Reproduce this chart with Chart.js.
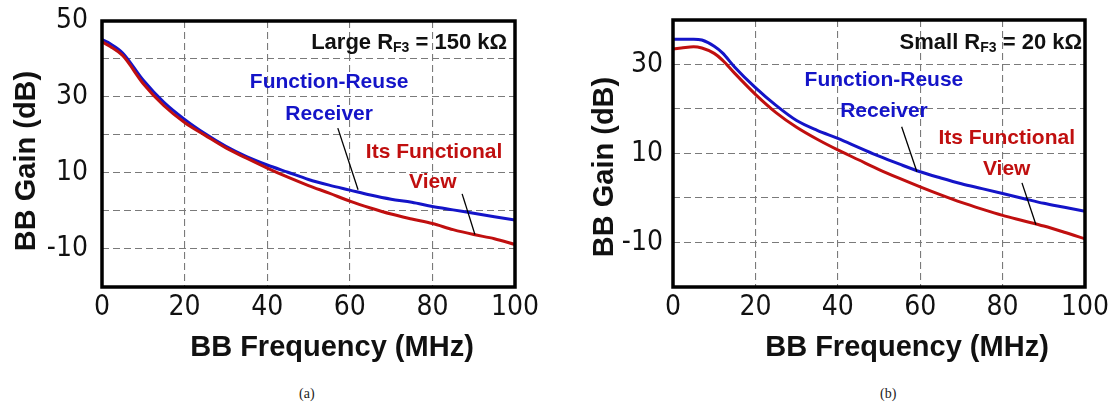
<!DOCTYPE html>
<html>
<head>
<meta charset="utf-8">
<script src="https://cdn.jsdelivr.net/npm/chart.js@4.4.1/dist/chart.umd.min.js"></script>
<style>
body{margin:0;background:#fff;width:1113px;height:411px;position:relative;overflow:hidden}
.box{position:absolute;top:0;height:370px}
.cap{position:absolute;top:386px;font:14px "Liberation Serif",serif;color:#222}
</style>
</head>
<body>
<div class="box" style="left:0;width:543px"><canvas id="chartA"></canvas></div>
<div class="box" style="left:580px;width:533px"><canvas id="chartB"></canvas></div>
<div class="cap" style="left:299px">(a)</div>
<div class="cap" style="left:880px">(b)</div>
<script>
// (a) large RF3 = 150 kOhm
let freqA  = [0, 2, 5, 10, 15, 20, 25, 30, 35, 40, 45, 50, 55, 60, 65, 70, 75, 80, 85, 90, 95, 100];
let reuseA = [45.1, 44.0, 41.6, 34.4, 28.6, 24.1, 20.3, 17.0, 14.3, 12.1, 10.2, 8.3, 6.8, 5.5, 4.2, 3.1, 2.3, 1.2, 0.3, -0.6, -1.5, -2.4];
let viewA  = [44.5, 43.3, 40.9, 33.5, 27.7, 23.3, 19.9, 16.6, 13.9, 11.3, 8.9, 6.7, 4.7, 2.6, 0.8, -0.8, -2.1, -3.3, -4.9, -6.2, -7.3, -8.8];

// (b) small RF3 = 20 kOhm
let freqB  = [0, 2, 5, 7, 10, 12, 15, 20, 25, 30, 35, 40, 45, 50, 55, 60, 65, 70, 75, 80, 85, 90, 95, 100];
let reuseB = [35.7, 35.7, 35.7, 35.5, 34.1, 32.6, 29.4, 24.8, 20.8, 17.4, 15.2, 13.4, 11.4, 9.4, 7.6, 5.9, 4.5, 3.2, 2.1, 1.0, -0.1, -1.2, -2.1, -3.0];
let viewB  = [33.5, 33.7, 34.0, 33.7, 32.5, 31.0, 28.0, 23.3, 19.2, 15.9, 13.2, 10.8, 8.6, 6.4, 4.4, 2.5, 0.7, -1.0, -2.5, -3.9, -5.1, -6.3, -7.7, -9.2];

let yTicksA = [50, 30, 10, -10];
let yTicksB = [30, 10, -10];

const blue = '#1414c8';
const red = '#c00f0f';
const tickFont = {family: '"DejaVu Sans Condensed", "Liberation Sans Narrow", sans-serif', size: 28};
const boldFont = '"Liberation Sans", Arial, sans-serif';

function points(xs, ys) {
    return xs.map((f, i) => ({x: f, y: ys[i]}));
}

const notes = {
    id: 'notes',
    afterDraw(chart, args, o) {
        const {ctx, chartArea: a} = chart;
        const x = chart.scales.x, y = chart.scales.y;
        ctx.save();
        ctx.strokeStyle = '#000';
        ctx.lineWidth = 3.5;
        ctx.strokeRect(a.left, a.top, a.right - a.left, a.bottom - a.top);

        ctx.lineWidth = 1.3;
        o.leaders.forEach(l => {
            ctx.beginPath();
            ctx.moveTo(x.getPixelForValue(l[0]), y.getPixelForValue(l[1]));
            ctx.lineTo(x.getPixelForValue(l[2]), y.getPixelForValue(l[3]));
            ctx.stroke();
        });

        ctx.textAlign = 'center';
        ctx.textBaseline = 'middle';
        ctx.font = 'bold 21px ' + boldFont;
        o.labels.forEach(t => {
            ctx.fillStyle = t.color;
            ctx.fillText(t.text, x.getPixelForValue(t.x), y.getPixelForValue(t.y));
        });

        // header: "Large R" + sub "F3" + " = 150 kΩ", right aligned
        const h = o.header;
        const big = 'bold 22px ' + boldFont, small = 'bold 14px ' + boldFont;
        ctx.font = big; const w1 = ctx.measureText(h.pre).width, w3 = ctx.measureText(h.post).width;
        ctx.font = small; const w2 = ctx.measureText(h.sub).width;
        let hx = x.getPixelForValue(h.x) - (w1 + w2 + w3), hy = y.getPixelForValue(h.y);
        ctx.textAlign = 'left';
        ctx.fillStyle = '#111';
        ctx.font = big; ctx.fillText(h.pre, hx, hy);
        ctx.font = small; ctx.fillText(h.sub, hx + w1, hy + 5);
        ctx.font = big; ctx.fillText(h.post, hx + w1 + w2, hy);

        // axis titles
        ctx.textAlign = 'center';
        ctx.font = 'bold 29px ' + boldFont;
        ctx.fillText('BB Frequency (MHz)', o.xTitle[0], o.xTitle[1]);
        ctx.translate(o.yTitle[0], o.yTitle[1]);
        ctx.rotate(-Math.PI / 2);
        ctx.fillText('BB Gain (dB)', 0, 0);
        ctx.restore();
    }
};

function makeChart(id, xs, reuse, view, yMin, yMax, yTicks, axisW, tickGap, padTop, note) {
    return new Chart(document.getElementById(id), {
        type: 'line',
        data: {
            datasets: [
                {label: 'Function-Reuse Receiver', data: points(xs, reuse), borderColor: blue, borderWidth: 3, order: 1},
                {label: 'Its Functional View', data: points(xs, view), borderColor: red, borderWidth: 3, order: 0}
            ]
        },
        options: {
            responsive: true,
            maintainAspectRatio: false,
            animation: false,
            events: [],
            layout: {padding: {top: padTop, right: 28, left: 0, bottom: 0}},
            elements: {point: {radius: 0}, line: {cubicInterpolationMode: 'monotone'}},
            plugins: {legend: {display: false}, tooltip: {enabled: false}, notes: note},
            scales: {
                x: {
                    type: 'linear', min: 0, max: 100,
                    ticks: {stepSize: 20, autoSkip: false, maxRotation: 0, padding: 0, color: '#111', font: tickFont},
                    grid: {color: '#7a7a7a', lineWidth: 1.1, drawTicks: true, tickLength: 4, tickColor: 'rgba(0,0,0,0)'},
                    border: {display: false, dash: [7, 4]},
                    afterFit: s => { s.height = 83; }
                },
                y: {
                    min: yMin, max: yMax,
                    ticks: {stepSize: 10, autoSkip: false, padding: 0, color: '#111', font: tickFont,
                        callback: v => yTicks.includes(v) ? v : ''},
                    grid: {color: '#7a7a7a', lineWidth: 1.1, drawTicks: true, tickLength: tickGap, tickColor: 'rgba(0,0,0,0)'},
                    border: {display: false, dash: [7, 4]},
                    afterFit: s => { s.width = axisW; }
                }
            }
        },
        plugins: [notes]
    });
}

makeChart('chartA', freqA, reuseA, viewA, -20, 50, yTicksA, 102, 14, 21, {
    header: {pre: 'Large R', sub: 'F3', post: ' = 150 kΩ', x: 98.1, y: 44.1},
    labels: [
        {text: 'Function-Reuse', x: 55.0, y: 33.8, color: blue},
        {text: 'Receiver', x: 55.0, y: 25.5, color: blue},
        {text: 'Its Functional', x: 80.4, y: 15.6, color: red},
        {text: 'View', x: 80.1, y: 7.7, color: red}
    ],
    leaders: [[57.1, 21.8, 62.0, 5.6], [87.2, 4.5, 90.3, -6.2]],
    xTitle: [332, 348],
    yTitle: [27, 161]
});

makeChart('chartB', freqB, reuseB, viewB, -20, 40, yTicksB, 93, 10, 20, {
    header: {pre: 'Small R', sub: 'F3', post: ' = 20 kΩ', x: 99.3, y: 34.8},
    labels: [
        {text: 'Function-Reuse', x: 51.2, y: 26.4, color: blue},
        {text: 'Receiver', x: 51.2, y: 19.4, color: blue},
        {text: 'Its Functional', x: 81.0, y: 13.5, color: red},
        {text: 'View', x: 81.0, y: 6.5, color: red}
    ],
    leaders: [[55.5, 16.0, 59.2, 5.9], [84.7, 3.4, 88.1, -6.0]],
    xTitle: [327, 348],
    yTitle: [25, 167]
});
</script>
</body>
</html>
